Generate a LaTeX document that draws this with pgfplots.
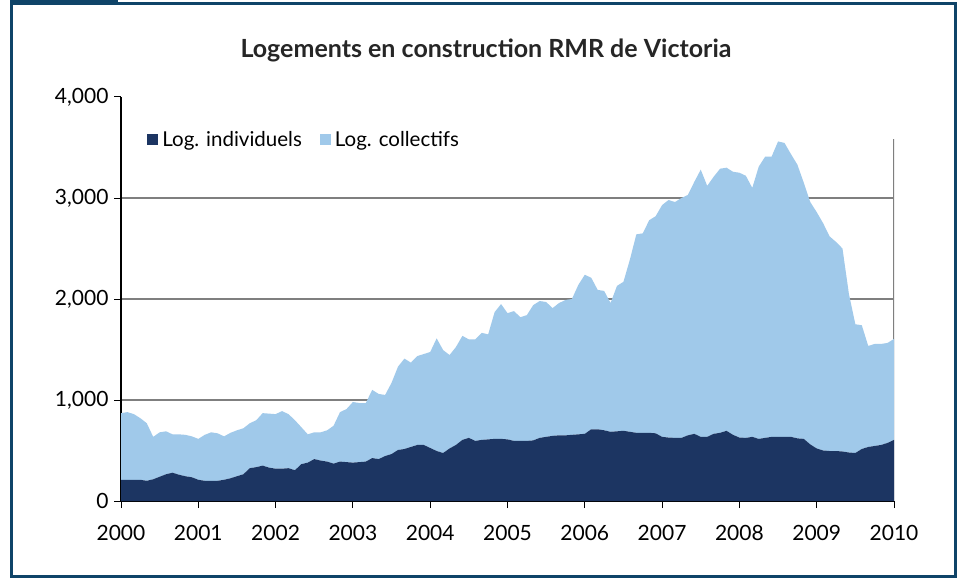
\documentclass[border=0pt]{standalone}
\usepackage{pgfplots}
\pgfplotsset{compat=1.18}
\usepackage{pgfplotstable}
\usepackage{fontspec}
\setmainfont{Lato}
\definecolor{darkarea}{HTML}{1C3562}
\definecolor{lightarea}{HTML}{A0C9EA}
\definecolor{framecol}{HTML}{0F4468}
\definecolor{gridcol}{HTML}{7F7F7F}

\pgfplotstableread{
m ind coll
0 210 660
1 210 670
2 210 650
3 210 610
4 200 570
5 215 420
6 240 440
7 265 425
8 280 380
9 260 400
10 245 410
11 235 405
12 210 405
13 200 455
14 200 480
15 200 470
16 210 430
17 225 450
18 245 455
19 265 455
20 325 445
21 335 465
22 350 520
23 330 535
24 320 540
25 320 570
26 325 535
27 305 495
28 365 365
29 380 280
30 415 265
31 400 280
32 390 310
33 370 375
34 390 490
35 385 525
36 380 600
37 385 585
38 390 580
39 425 675
40 415 645
41 445 605
42 465 705
43 505 825
44 515 895
45 535 835
46 555 880
47 555 900
48 525 950
49 495 1115
50 475 1020
51 520 925
52 555 970
53 605 1030
54 625 975
55 595 1005
56 605 1060
57 610 1040
58 615 1255
59 615 1335
60 610 1250
61 595 1285
62 595 1225
63 595 1245
64 600 1340
65 625 1355
66 635 1335
67 645 1265
68 650 1310
69 650 1340
70 655 1345
71 660 1480
72 665 1575
73 710 1500
74 710 1380
75 700 1380
76 685 1275
77 690 1440
78 695 1475
79 685 1705
80 675 1965
81 675 1975
82 675 2105
83 670 2150
84 635 2295
85 628 2352
86 625 2335
87 625 2375
88 650 2380
89 665 2495
90 635 2645
91 635 2485
92 665 2545
93 675 2615
94 695 2605
95 655 2605
96 628 2622
97 625 2595
98 635 2465
99 615 2695
100 625 2785
101 635 2775
102 635 2925
103 635 2910
104 635 2800
105 620 2710
106 615 2535
107 560 2400
108 520 2340
109 500 2250
110 495 2125
111 495 2070
112 490 2010
113 480 1570
114 475 1275
115 515 1225
116 535 1000
117 545 1010
118 555 1000
119 575 990
120 605 1000
}\data

\begin{document}
\begin{tikzpicture}
\useasboundingbox (0pt,0pt) rectangle (961pt,579pt);
\fill[white] (0pt,0pt) rectangle (961pt,579pt);
\draw[framecol, line width=3pt] (11.5pt,3pt) rectangle (955pt,575pt);
\fill[framecol] (10pt,574pt) rectangle (118pt,579pt);
\node[font=\fontsize{25}{30}\selectfont\bfseries, text=black!85] at (486pt,529pt) {Logements en construction RMR de Victoria};
\begin{axis}[
  at={(121pt,78pt)}, anchor=south west,
  scale only axis, width=773pt, height=404pt,
  xmin=0, xmax=120, ymin=0, ymax=4000,
  xtick={0,12,...,120},
  xticklabels={2000,2001,2002,2003,2004,2005,2006,2007,2008,2009,2010},
  ytick={0,1000,2000,3000},
  extra y ticks={4000},
  extra y tick style={grid=none},
  ymajorgrids,
  grid style={gridcol, line width=1.5pt},
  axis x line*=bottom, axis y line*=left,
  axis line style={black, line width=1.2pt},
  tick style={black, line width=1pt},
  tick align=outside, major tick length=7pt,
  ticklabel style={font=\fontsize{21}{25}\selectfont},
  /pgf/number format/assume math mode=true,
  /pgf/number format/1000 sep={,},
  yticklabel style={xshift=-2pt},
  xticklabel style={yshift=-14pt},
  stack plots=y,
  legend style={at={(0.03,0.925)}, anchor=north west, draw=none, fill=none,
    font=\fontsize{20.5}{24}\selectfont, legend columns=2,
    /tikz/every even column/.append style={column sep=16pt},
    /tikz/every odd column/.append style={column sep=2pt}},
  legend image code/.code={\fill[#1] (0pt,-5.5pt) rectangle (11pt,5.5pt);},
]
\addplot[fill=darkarea, draw=none] table[x=m, y=ind] {\data} \closedcycle;
\addlegendentry{Log. individuels}
\addplot[fill=lightarea, draw=none] table[x=m, y=coll] {\data} \closedcycle;
\addlegendentry{Log. collectifs}
\draw[gridcol, line width=2pt] (axis cs:120,0) -- (axis cs:120,3580);
\draw[black, line width=1.2pt] (axis cs:0,0) -- (axis cs:120,0);
\end{axis}
\end{tikzpicture}
\end{document}
